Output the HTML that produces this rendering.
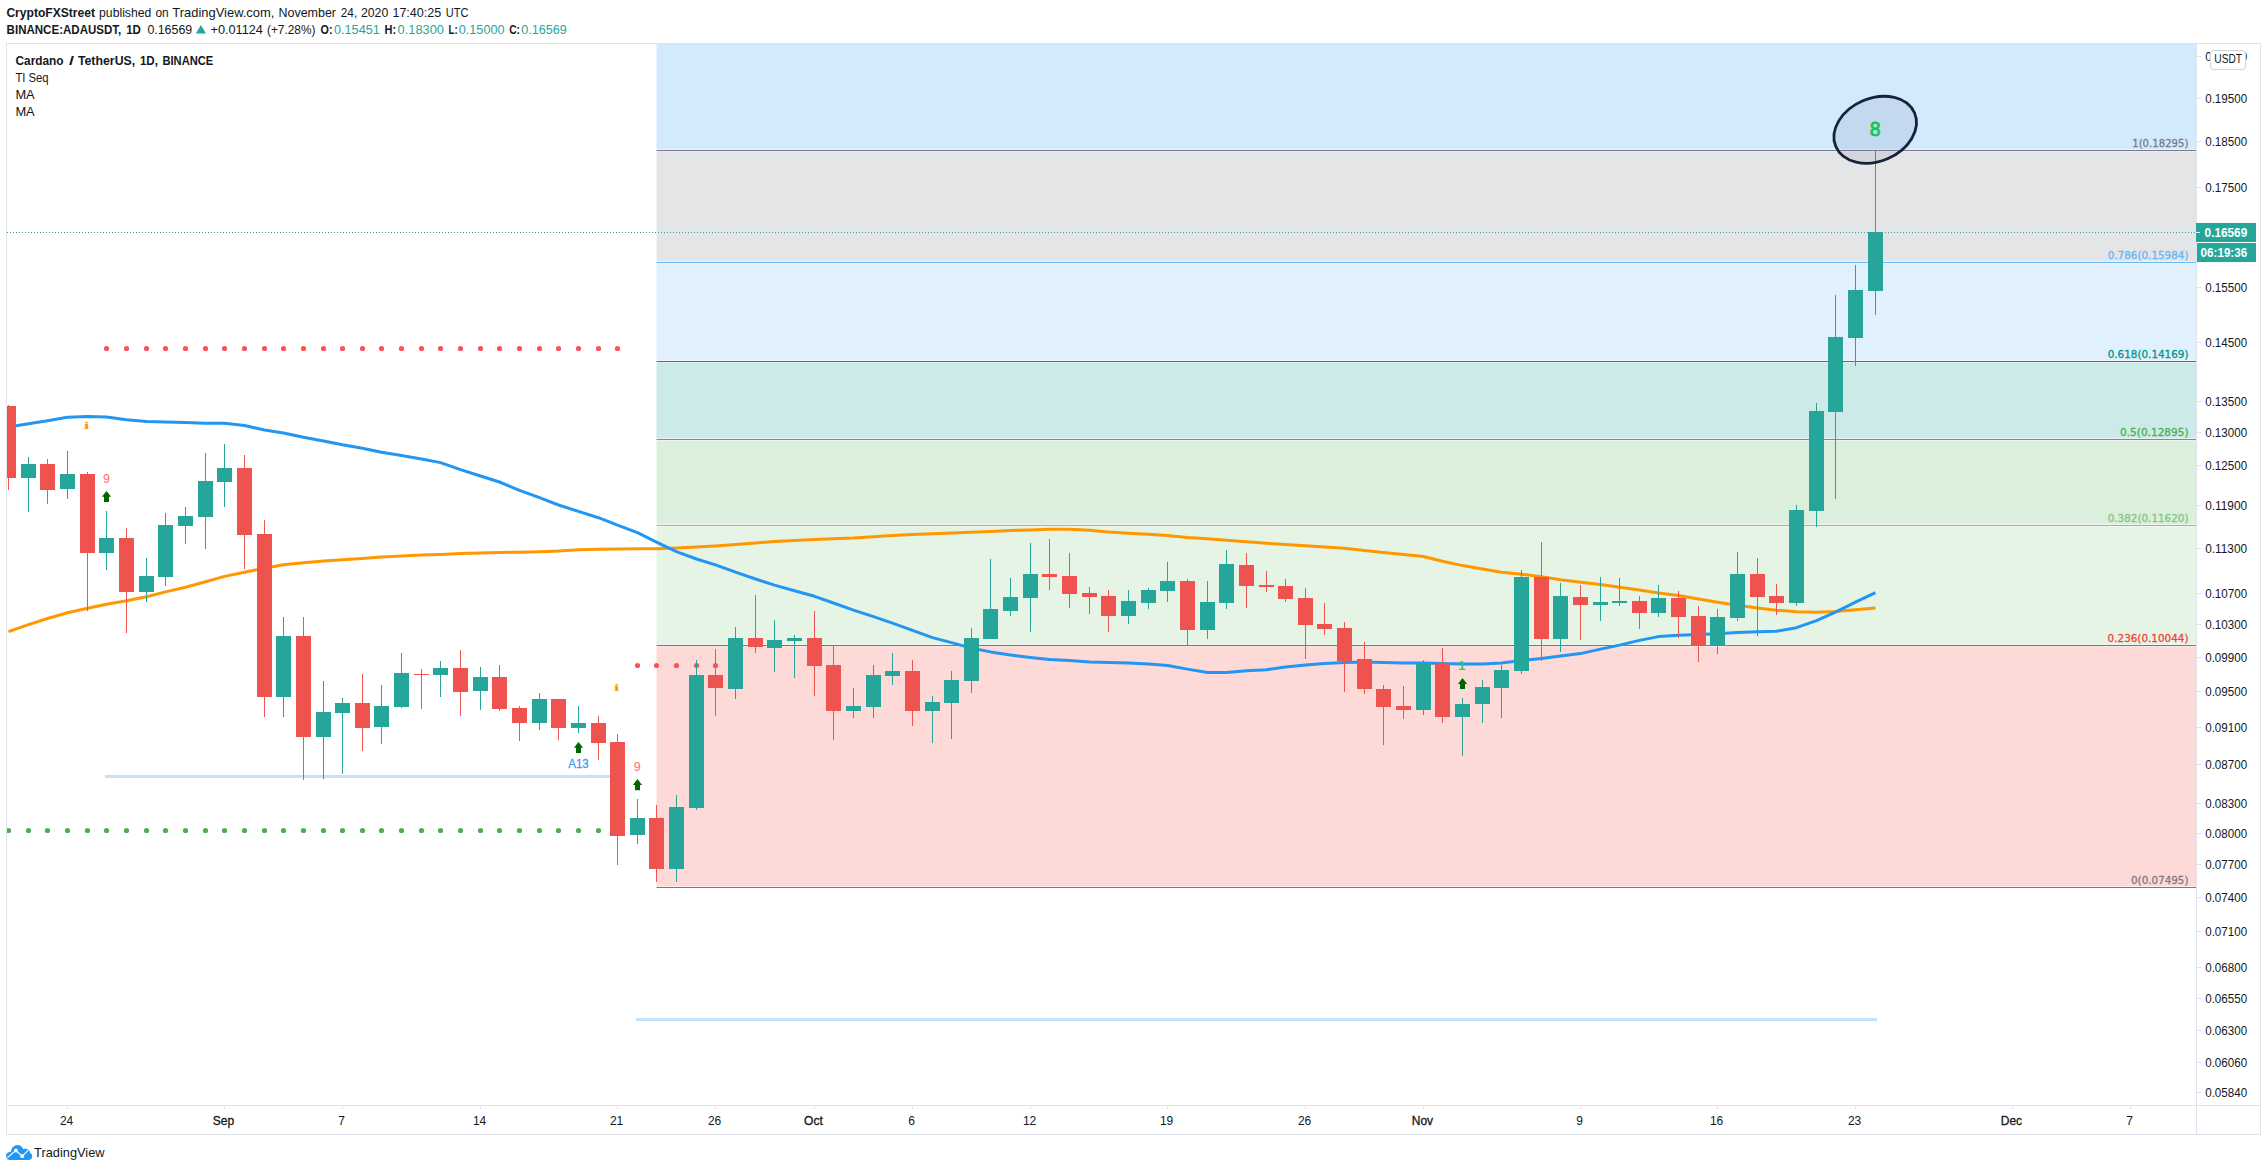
<!DOCTYPE html>
<html lang="en"><head><meta charset="utf-8"><title>ADAUSDT chart - TradingView</title>
<style>html,body{margin:0;padding:0;background:#fff;}body{width:2267px;height:1171px;overflow:hidden;}svg{display:block;}text{font-family:"Liberation Sans", sans-serif;font-size:12px;fill:#131722;}.h{font-size:12.75px;}.b{font-weight:bold;}.t{fill:#26A69A;}.fib{font-family:"DejaVu Sans", "Liberation Sans", sans-serif;font-size:11px;text-anchor:end;}.ax{font-size:12px;}.tm{font-size:12px;text-anchor:middle;}</style></head><body>
<svg width="2267" height="1171" viewBox="0 0 2267 1171">
<rect width="2267" height="1171" fill="#fff"/>
<text x="6.4" y="16.8" class="h b" textLength="88.6" lengthAdjust="spacingAndGlyphs">CryptoFXStreet</text>
<text x="99.1" y="16.8" class="h" textLength="52.2" lengthAdjust="spacingAndGlyphs">published</text>
<text x="155.5" y="16.8" class="h" textLength="13.2" lengthAdjust="spacingAndGlyphs">on</text>
<text x="172.3" y="16.8" class="h" textLength="102.1" lengthAdjust="spacingAndGlyphs">TradingView.com,</text>
<text x="278.5" y="16.8" class="h" textLength="57.5" lengthAdjust="spacingAndGlyphs">November</text>
<text x="340.7" y="16.8" class="h" textLength="16.5" lengthAdjust="spacingAndGlyphs">24,</text>
<text x="360.9" y="16.8" class="h" textLength="27.4" lengthAdjust="spacingAndGlyphs">2020</text>
<text x="392.4" y="16.8" class="h" textLength="48.9" lengthAdjust="spacingAndGlyphs">17:40:25</text>
<text x="445.7" y="16.8" class="h" textLength="22.7" lengthAdjust="spacingAndGlyphs">UTC</text>
<text x="6.6" y="33.5" class="h b" textLength="114.7" lengthAdjust="spacingAndGlyphs">BINANCE:ADAUSDT,</text>
<text x="126.2" y="33.5" class="h b" textLength="14.7" lengthAdjust="spacingAndGlyphs">1D</text>
<text x="147.4" y="33.5" class="h" textLength="44.8" lengthAdjust="spacingAndGlyphs">0.16569</text>
<path d="M195.8 33.5L200.9 24.9L206 33.5Z" fill="#26A69A"/>
<text x="210.5" y="33.5" class="h" textLength="52.4" lengthAdjust="spacingAndGlyphs">+0.01124</text>
<text x="267.0" y="33.5" class="h" textLength="48.4" lengthAdjust="spacingAndGlyphs">(+7.28%)</text>
<text x="320.6" y="33.5" class="h b" textLength="12.0" lengthAdjust="spacingAndGlyphs">O:</text>
<text x="334.0" y="33.5" class="h t" textLength="45.8" lengthAdjust="spacingAndGlyphs">0.15451</text>
<text x="384.6" y="33.5" class="h b" textLength="11.6" lengthAdjust="spacingAndGlyphs">H:</text>
<text x="397.6" y="33.5" class="h t" textLength="46.4" lengthAdjust="spacingAndGlyphs">0.18300</text>
<text x="448.6" y="33.5" class="h b" textLength="9.0" lengthAdjust="spacingAndGlyphs">L:</text>
<text x="458.8" y="33.5" class="h t" textLength="45.7" lengthAdjust="spacingAndGlyphs">0.15000</text>
<text x="509.2" y="33.5" class="h b" textLength="10.8" lengthAdjust="spacingAndGlyphs">C:</text>
<text x="521.2" y="33.5" class="h t" textLength="45.6" lengthAdjust="spacingAndGlyphs">0.16569</text>
<g>
<rect x="656.5" y="44.0" width="1539.5" height="105.5" fill="#D3EAFD"/>
<rect x="656.5" y="151.3" width="1539.5" height="110.2" fill="#E4E5E7"/>
<rect x="656.5" y="263.4" width="1539.5" height="97.1" fill="#E0F0FD"/>
<rect x="656.5" y="362.4" width="1539.5" height="76.1" fill="#CCEAE7"/>
<rect x="656.5" y="440.4" width="1539.5" height="84.1" fill="#DBEFDC"/>
<rect x="656.5" y="526.4" width="1539.5" height="118.1" fill="#E6F4E6"/>
<rect x="656.5" y="646.4" width="1539.5" height="240.1" fill="#FDD9D7"/>
<rect x="656.5" y="150" width="1539.5" height="1" fill="#787B86"/>
<rect x="656.5" y="262" width="1539.5" height="1" fill="#64B5F6"/>
<rect x="656.5" y="361" width="1539.5" height="1" fill="#009688"/>
<rect x="656.5" y="439" width="1539.5" height="1" fill="#4CAF50"/>
<rect x="656.5" y="525" width="1539.5" height="1" fill="#81C784"/>
<rect x="656.5" y="645" width="1539.5" height="1" fill="#F44336"/>
<rect x="656.5" y="887" width="1539.5" height="1" fill="#787B86"/>
</g>
<text x="2188.5" y="147.0" class="fib" textLength="56.3" lengthAdjust="spacingAndGlyphs" style="fill:#787B86;stroke:#787B86;stroke-width:0.3px">1(0.18295)</text>
<text x="2188.5" y="259.0" class="fib" textLength="80.8" lengthAdjust="spacingAndGlyphs" style="fill:#64B5F6;stroke:#64B5F6;stroke-width:0.3px">0.786(0.15984)</text>
<text x="2188.5" y="358.0" class="fib" textLength="80.8" lengthAdjust="spacingAndGlyphs" style="fill:#009688;stroke:#009688;stroke-width:0.3px">0.618(0.14169)</text>
<text x="2188.5" y="436.0" class="fib" textLength="68.4" lengthAdjust="spacingAndGlyphs" style="fill:#4CAF50;stroke:#4CAF50;stroke-width:0.3px">0.5(0.12895)</text>
<text x="2188.5" y="522.0" class="fib" textLength="80.8" lengthAdjust="spacingAndGlyphs" style="fill:#81C784;stroke:#81C784;stroke-width:0.3px">0.382(0.11620)</text>
<text x="2188.5" y="642.0" class="fib" textLength="80.9" lengthAdjust="spacingAndGlyphs" style="fill:#F44336;stroke:#F44336;stroke-width:0.3px">0.236(0.10044)</text>
<text x="2188.5" y="884.0" class="fib" textLength="57.5" lengthAdjust="spacingAndGlyphs" style="fill:#787B86;stroke:#787B86;stroke-width:0.3px">0(0.07495)</text>
<g shape-rendering="crispEdges">
<rect x="105" y="775" width="505" height="3" fill="#C4E3FB"/>
<rect x="636" y="1018" width="1241" height="3" fill="#C4E3FB"/>
</g>
<line x1="7" y1="232.5" x2="2196" y2="232.5" stroke="#26A69A" stroke-width="1" stroke-dasharray="1 2" shape-rendering="crispEdges"/>
<polyline points="8.5,631.7 28.5,624.7 47.5,618.5 67.5,612.7 87.5,608.2 106.5,604.2 126.5,600.7 146.5,596.7 165.5,591.9 185.5,587.2 205.5,581.7 224.5,576.4 244.5,572.2 264.5,568.2 283.5,564.7 303.5,562.7 323.5,560.9 342.5,559.7 362.5,558.4 381.5,557.1 401.5,556.1 421.5,555.1 440.5,554.4 460.5,553.6 480.5,552.9 499.5,552.4 519.5,552.3 539.5,551.7 558.5,551.1 578.5,549.8 598.5,549.2 617.5,549.0 637.5,548.8 656.5,548.7 676.5,547.9 696.5,547.1 715.5,546.0 735.5,544.6 755.5,543.0 774.5,541.5 794.5,540.5 814.5,539.5 833.5,538.7 853.5,538.0 873.5,536.7 892.5,535.5 912.5,534.6 932.5,533.8 951.5,533.0 971.5,532.3 990.5,531.4 1010.5,530.5 1030.5,530.0 1049.5,529.3 1069.5,529.3 1089.5,530.3 1108.5,532.0 1128.5,533.3 1148.5,534.3 1167.5,535.5 1187.5,537.5 1207.5,538.8 1226.5,540.2 1246.5,541.8 1266.5,543.3 1285.5,544.5 1305.5,545.8 1324.5,547.0 1344.5,548.3 1364.5,550.5 1383.5,552.5 1403.5,554.5 1423.5,556.5 1442.5,561.3 1462.5,565.6 1482.5,569.1 1501.5,572.3 1521.5,574.3 1541.5,576.8 1560.5,579.8 1580.5,582.3 1600.5,584.6 1619.5,587.3 1639.5,590.1 1658.5,593.1 1678.5,595.6 1698.5,599.1 1717.5,602.2 1737.5,605.2 1757.5,607.9 1776.5,610.2 1796.5,611.7 1816.5,612.2 1835.5,611.4 1855.5,609.7 1875.5,607.9" fill="none" stroke="#FF9800" stroke-width="3" stroke-linejoin="round" stroke-linecap="butt"/>
<polyline points="8.5,427.0 28.5,423.7 47.5,420.7 67.5,417.3 87.5,416.5 106.5,416.9 126.5,419.8 146.5,421.5 165.5,422.0 185.5,422.5 205.5,423.3 224.5,423.3 244.5,425.5 264.5,430.0 283.5,433.0 303.5,437.3 323.5,441.0 342.5,444.8 362.5,448.3 381.5,452.3 401.5,455.6 421.5,459.0 440.5,462.6 460.5,469.6 480.5,476.0 499.5,482.0 519.5,490.4 539.5,497.6 558.5,505.0 578.5,511.4 598.5,517.7 617.5,525.1 637.5,532.6 656.5,542.1 676.5,551.6 696.5,559.0 715.5,564.9 735.5,572.2 755.5,579.0 774.5,585.1 794.5,590.7 814.5,596.3 833.5,603.0 853.5,610.1 873.5,616.6 892.5,623.1 912.5,630.4 932.5,637.6 951.5,642.6 971.5,648.1 990.5,651.9 1010.5,655.1 1030.5,657.4 1049.5,659.4 1069.5,660.4 1089.5,661.9 1108.5,662.4 1128.5,662.9 1148.5,664.1 1167.5,665.4 1187.5,669.1 1207.5,672.4 1226.5,672.6 1246.5,670.7 1266.5,669.7 1285.5,666.9 1305.5,665.1 1324.5,663.6 1344.5,662.6 1364.5,662.1 1383.5,662.6 1403.5,663.1 1423.5,663.1 1442.5,663.4 1462.5,664.1 1482.5,663.9 1501.5,662.9 1521.5,660.6 1541.5,658.4 1560.5,656.1 1580.5,653.6 1600.5,649.1 1619.5,645.1 1639.5,640.4 1658.5,636.6 1678.5,635.3 1698.5,634.5 1717.5,633.7 1737.5,632.6 1757.5,631.8 1776.5,631.2 1796.5,627.7 1816.5,620.7 1835.5,612.2 1855.5,602.2 1875.5,592.7" fill="none" stroke="#2196F3" stroke-width="3" stroke-linejoin="round" stroke-linecap="butt"/>
<circle cx="106.5" cy="348.5" r="2.6" fill="#FF5252"/>
<circle cx="126.5" cy="348.5" r="2.6" fill="#FF5252"/>
<circle cx="146.5" cy="348.5" r="2.6" fill="#FF5252"/>
<circle cx="165.5" cy="348.5" r="2.6" fill="#FF5252"/>
<circle cx="185.5" cy="348.5" r="2.6" fill="#FF5252"/>
<circle cx="205.5" cy="348.5" r="2.6" fill="#FF5252"/>
<circle cx="224.5" cy="348.5" r="2.6" fill="#FF5252"/>
<circle cx="244.5" cy="348.5" r="2.6" fill="#FF5252"/>
<circle cx="264.5" cy="348.5" r="2.6" fill="#FF5252"/>
<circle cx="283.5" cy="348.5" r="2.6" fill="#FF5252"/>
<circle cx="303.5" cy="348.5" r="2.6" fill="#FF5252"/>
<circle cx="323.5" cy="348.5" r="2.6" fill="#FF5252"/>
<circle cx="342.5" cy="348.5" r="2.6" fill="#FF5252"/>
<circle cx="362.5" cy="348.5" r="2.6" fill="#FF5252"/>
<circle cx="381.5" cy="348.5" r="2.6" fill="#FF5252"/>
<circle cx="401.5" cy="348.5" r="2.6" fill="#FF5252"/>
<circle cx="421.5" cy="348.5" r="2.6" fill="#FF5252"/>
<circle cx="440.5" cy="348.5" r="2.6" fill="#FF5252"/>
<circle cx="460.5" cy="348.5" r="2.6" fill="#FF5252"/>
<circle cx="480.5" cy="348.5" r="2.6" fill="#FF5252"/>
<circle cx="499.5" cy="348.5" r="2.6" fill="#FF5252"/>
<circle cx="519.5" cy="348.5" r="2.6" fill="#FF5252"/>
<circle cx="539.5" cy="348.5" r="2.6" fill="#FF5252"/>
<circle cx="558.5" cy="348.5" r="2.6" fill="#FF5252"/>
<circle cx="578.5" cy="348.5" r="2.6" fill="#FF5252"/>
<circle cx="598.5" cy="348.5" r="2.6" fill="#FF5252"/>
<circle cx="617.5" cy="348.5" r="2.6" fill="#FF5252"/>
<circle cx="637.5" cy="665.5" r="2.6" fill="#FF5252"/>
<circle cx="656.5" cy="665.5" r="2.6" fill="#FF5252"/>
<circle cx="676.5" cy="665.5" r="2.6" fill="#FF5252"/>
<circle cx="696.5" cy="665.5" r="2.6" fill="#FF5252"/>
<circle cx="715.5" cy="665.5" r="2.6" fill="#FF5252"/>
<circle cx="8.5" cy="830.5" r="2.6" fill="#4CAF50"/>
<circle cx="28.5" cy="830.5" r="2.6" fill="#4CAF50"/>
<circle cx="47.5" cy="830.5" r="2.6" fill="#4CAF50"/>
<circle cx="67.5" cy="830.5" r="2.6" fill="#4CAF50"/>
<circle cx="87.5" cy="830.5" r="2.6" fill="#4CAF50"/>
<circle cx="106.5" cy="830.5" r="2.6" fill="#4CAF50"/>
<circle cx="126.5" cy="830.5" r="2.6" fill="#4CAF50"/>
<circle cx="146.5" cy="830.5" r="2.6" fill="#4CAF50"/>
<circle cx="165.5" cy="830.5" r="2.6" fill="#4CAF50"/>
<circle cx="185.5" cy="830.5" r="2.6" fill="#4CAF50"/>
<circle cx="205.5" cy="830.5" r="2.6" fill="#4CAF50"/>
<circle cx="224.5" cy="830.5" r="2.6" fill="#4CAF50"/>
<circle cx="244.5" cy="830.5" r="2.6" fill="#4CAF50"/>
<circle cx="264.5" cy="830.5" r="2.6" fill="#4CAF50"/>
<circle cx="283.5" cy="830.5" r="2.6" fill="#4CAF50"/>
<circle cx="303.5" cy="830.5" r="2.6" fill="#4CAF50"/>
<circle cx="323.5" cy="830.5" r="2.6" fill="#4CAF50"/>
<circle cx="342.5" cy="830.5" r="2.6" fill="#4CAF50"/>
<circle cx="362.5" cy="830.5" r="2.6" fill="#4CAF50"/>
<circle cx="381.5" cy="830.5" r="2.6" fill="#4CAF50"/>
<circle cx="401.5" cy="830.5" r="2.6" fill="#4CAF50"/>
<circle cx="421.5" cy="830.5" r="2.6" fill="#4CAF50"/>
<circle cx="440.5" cy="830.5" r="2.6" fill="#4CAF50"/>
<circle cx="460.5" cy="830.5" r="2.6" fill="#4CAF50"/>
<circle cx="480.5" cy="830.5" r="2.6" fill="#4CAF50"/>
<circle cx="499.5" cy="830.5" r="2.6" fill="#4CAF50"/>
<circle cx="519.5" cy="830.5" r="2.6" fill="#4CAF50"/>
<circle cx="539.5" cy="830.5" r="2.6" fill="#4CAF50"/>
<circle cx="558.5" cy="830.5" r="2.6" fill="#4CAF50"/>
<circle cx="578.5" cy="830.5" r="2.6" fill="#4CAF50"/>
<circle cx="598.5" cy="830.5" r="2.6" fill="#4CAF50"/>
<g shape-rendering="crispEdges">
<rect x="8" y="405" width="1" height="85" fill="#EF5350"/>
<rect x="7" y="406" width="9" height="72" fill="#EF5350"/>
<rect x="28" y="457" width="1" height="55" fill="#26A69A"/>
<rect x="21" y="464" width="15" height="14" fill="#26A69A"/>
<rect x="47" y="459" width="1" height="45" fill="#EF5350"/>
<rect x="40" y="464" width="15" height="26" fill="#EF5350"/>
<rect x="67" y="451" width="1" height="48" fill="#26A69A"/>
<rect x="60" y="474" width="15" height="15" fill="#26A69A"/>
<rect x="87" y="472" width="1" height="139" fill="#EF5350"/>
<rect x="80" y="474" width="15" height="79" fill="#EF5350"/>
<rect x="106" y="511" width="1" height="59" fill="#26A69A"/>
<rect x="99" y="538" width="15" height="15" fill="#26A69A"/>
<rect x="126" y="528" width="1" height="105" fill="#EF5350"/>
<rect x="119" y="538" width="15" height="54" fill="#EF5350"/>
<rect x="146" y="558" width="1" height="44" fill="#26A69A"/>
<rect x="139" y="576" width="15" height="16" fill="#26A69A"/>
<rect x="165" y="513" width="1" height="73" fill="#26A69A"/>
<rect x="158" y="525" width="15" height="52" fill="#26A69A"/>
<rect x="185" y="507" width="1" height="37" fill="#26A69A"/>
<rect x="178" y="516" width="15" height="10" fill="#26A69A"/>
<rect x="205" y="453" width="1" height="96" fill="#26A69A"/>
<rect x="198" y="481" width="15" height="36" fill="#26A69A"/>
<rect x="224" y="444" width="1" height="63" fill="#26A69A"/>
<rect x="217" y="468" width="15" height="14" fill="#26A69A"/>
<rect x="244" y="455" width="1" height="114" fill="#EF5350"/>
<rect x="237" y="468" width="15" height="67" fill="#EF5350"/>
<rect x="264" y="520" width="1" height="197" fill="#EF5350"/>
<rect x="257" y="534" width="15" height="163" fill="#EF5350"/>
<rect x="283" y="617" width="1" height="100" fill="#26A69A"/>
<rect x="276" y="636" width="15" height="61" fill="#26A69A"/>
<rect x="303" y="617" width="1" height="163" fill="#EF5350"/>
<rect x="296" y="636" width="15" height="101" fill="#EF5350"/>
<rect x="323" y="681" width="1" height="98" fill="#26A69A"/>
<rect x="316" y="712" width="15" height="25" fill="#26A69A"/>
<rect x="342" y="698" width="1" height="76" fill="#26A69A"/>
<rect x="335" y="703" width="15" height="10" fill="#26A69A"/>
<rect x="362" y="674" width="1" height="77" fill="#EF5350"/>
<rect x="355" y="703" width="15" height="25" fill="#EF5350"/>
<rect x="381" y="685" width="1" height="59" fill="#26A69A"/>
<rect x="374" y="706" width="15" height="21" fill="#26A69A"/>
<rect x="401" y="653" width="1" height="55" fill="#26A69A"/>
<rect x="394" y="673" width="15" height="34" fill="#26A69A"/>
<rect x="421" y="669" width="1" height="40" fill="#EF5350"/>
<rect x="414" y="674" width="15" height="1" fill="#EF5350"/>
<rect x="440" y="661" width="1" height="36" fill="#26A69A"/>
<rect x="433" y="668" width="15" height="7" fill="#26A69A"/>
<rect x="460" y="650" width="1" height="66" fill="#EF5350"/>
<rect x="453" y="668" width="15" height="24" fill="#EF5350"/>
<rect x="480" y="667" width="1" height="43" fill="#26A69A"/>
<rect x="473" y="677" width="15" height="14" fill="#26A69A"/>
<rect x="499" y="665" width="1" height="46" fill="#EF5350"/>
<rect x="492" y="677" width="15" height="32" fill="#EF5350"/>
<rect x="519" y="706" width="1" height="35" fill="#EF5350"/>
<rect x="512" y="708" width="15" height="15" fill="#EF5350"/>
<rect x="539" y="693" width="1" height="37" fill="#26A69A"/>
<rect x="532" y="699" width="15" height="24" fill="#26A69A"/>
<rect x="558" y="699" width="1" height="41" fill="#EF5350"/>
<rect x="551" y="699" width="15" height="29" fill="#EF5350"/>
<rect x="578" y="706" width="1" height="27" fill="#26A69A"/>
<rect x="571" y="723" width="15" height="5" fill="#26A69A"/>
<rect x="598" y="716" width="1" height="44" fill="#EF5350"/>
<rect x="591" y="723" width="15" height="20" fill="#EF5350"/>
<rect x="617" y="734" width="1" height="131" fill="#EF5350"/>
<rect x="610" y="742" width="15" height="94" fill="#EF5350"/>
<rect x="637" y="799" width="1" height="45" fill="#26A69A"/>
<rect x="630" y="818" width="15" height="17" fill="#26A69A"/>
<rect x="656" y="805" width="1" height="77" fill="#EF5350"/>
<rect x="649" y="818" width="15" height="51" fill="#EF5350"/>
<rect x="676" y="795" width="1" height="87" fill="#26A69A"/>
<rect x="669" y="807" width="15" height="62" fill="#26A69A"/>
<rect x="696" y="660" width="1" height="150" fill="#26A69A"/>
<rect x="689" y="675" width="15" height="133" fill="#26A69A"/>
<rect x="715" y="649" width="1" height="67" fill="#EF5350"/>
<rect x="708" y="675" width="15" height="13" fill="#EF5350"/>
<rect x="735" y="627" width="1" height="72" fill="#26A69A"/>
<rect x="728" y="638" width="15" height="51" fill="#26A69A"/>
<rect x="755" y="595" width="1" height="58" fill="#EF5350"/>
<rect x="748" y="638" width="15" height="9" fill="#EF5350"/>
<rect x="774" y="620" width="1" height="52" fill="#26A69A"/>
<rect x="767" y="640" width="15" height="8" fill="#26A69A"/>
<rect x="794" y="635" width="1" height="43" fill="#26A69A"/>
<rect x="787" y="638" width="15" height="3" fill="#26A69A"/>
<rect x="814" y="611" width="1" height="85" fill="#EF5350"/>
<rect x="807" y="638" width="15" height="28" fill="#EF5350"/>
<rect x="833" y="646" width="1" height="94" fill="#EF5350"/>
<rect x="826" y="665" width="15" height="46" fill="#EF5350"/>
<rect x="853" y="688" width="1" height="30" fill="#26A69A"/>
<rect x="846" y="706" width="15" height="5" fill="#26A69A"/>
<rect x="873" y="665" width="1" height="53" fill="#26A69A"/>
<rect x="866" y="675" width="15" height="32" fill="#26A69A"/>
<rect x="892" y="653" width="1" height="32" fill="#26A69A"/>
<rect x="885" y="671" width="15" height="5" fill="#26A69A"/>
<rect x="912" y="660" width="1" height="66" fill="#EF5350"/>
<rect x="905" y="671" width="15" height="40" fill="#EF5350"/>
<rect x="932" y="696" width="1" height="47" fill="#26A69A"/>
<rect x="925" y="702" width="15" height="9" fill="#26A69A"/>
<rect x="951" y="671" width="1" height="68" fill="#26A69A"/>
<rect x="944" y="680" width="15" height="23" fill="#26A69A"/>
<rect x="971" y="628" width="1" height="65" fill="#26A69A"/>
<rect x="964" y="638" width="15" height="43" fill="#26A69A"/>
<rect x="990" y="559" width="1" height="80" fill="#26A69A"/>
<rect x="983" y="609" width="15" height="30" fill="#26A69A"/>
<rect x="1010" y="578" width="1" height="38" fill="#26A69A"/>
<rect x="1003" y="597" width="15" height="14" fill="#26A69A"/>
<rect x="1030" y="543" width="1" height="89" fill="#26A69A"/>
<rect x="1023" y="574" width="15" height="24" fill="#26A69A"/>
<rect x="1049" y="539" width="1" height="51" fill="#EF5350"/>
<rect x="1042" y="574" width="15" height="3" fill="#EF5350"/>
<rect x="1069" y="553" width="1" height="55" fill="#EF5350"/>
<rect x="1062" y="576" width="15" height="18" fill="#EF5350"/>
<rect x="1089" y="587" width="1" height="27" fill="#EF5350"/>
<rect x="1082" y="593" width="15" height="4" fill="#EF5350"/>
<rect x="1108" y="590" width="1" height="42" fill="#EF5350"/>
<rect x="1101" y="596" width="15" height="20" fill="#EF5350"/>
<rect x="1128" y="590" width="1" height="34" fill="#26A69A"/>
<rect x="1121" y="601" width="15" height="15" fill="#26A69A"/>
<rect x="1148" y="588" width="1" height="21" fill="#26A69A"/>
<rect x="1141" y="590" width="15" height="13" fill="#26A69A"/>
<rect x="1167" y="562" width="1" height="40" fill="#26A69A"/>
<rect x="1160" y="581" width="15" height="10" fill="#26A69A"/>
<rect x="1187" y="579" width="1" height="66" fill="#EF5350"/>
<rect x="1180" y="581" width="15" height="49" fill="#EF5350"/>
<rect x="1207" y="581" width="1" height="58" fill="#26A69A"/>
<rect x="1200" y="602" width="15" height="28" fill="#26A69A"/>
<rect x="1226" y="550" width="1" height="59" fill="#26A69A"/>
<rect x="1219" y="564" width="15" height="39" fill="#26A69A"/>
<rect x="1246" y="553" width="1" height="55" fill="#EF5350"/>
<rect x="1239" y="565" width="15" height="21" fill="#EF5350"/>
<rect x="1266" y="571" width="1" height="21" fill="#EF5350"/>
<rect x="1259" y="585" width="15" height="2" fill="#EF5350"/>
<rect x="1285" y="579" width="1" height="23" fill="#EF5350"/>
<rect x="1278" y="586" width="15" height="13" fill="#EF5350"/>
<rect x="1305" y="588" width="1" height="71" fill="#EF5350"/>
<rect x="1298" y="598" width="15" height="27" fill="#EF5350"/>
<rect x="1324" y="603" width="1" height="32" fill="#EF5350"/>
<rect x="1317" y="624" width="15" height="5" fill="#EF5350"/>
<rect x="1344" y="622" width="1" height="70" fill="#EF5350"/>
<rect x="1337" y="628" width="15" height="33" fill="#EF5350"/>
<rect x="1364" y="642" width="1" height="52" fill="#EF5350"/>
<rect x="1357" y="659" width="15" height="30" fill="#EF5350"/>
<rect x="1383" y="685" width="1" height="60" fill="#EF5350"/>
<rect x="1376" y="689" width="15" height="18" fill="#EF5350"/>
<rect x="1403" y="686" width="1" height="33" fill="#EF5350"/>
<rect x="1396" y="706" width="15" height="4" fill="#EF5350"/>
<rect x="1423" y="660" width="1" height="55" fill="#26A69A"/>
<rect x="1416" y="663" width="15" height="47" fill="#26A69A"/>
<rect x="1442" y="648" width="1" height="75" fill="#EF5350"/>
<rect x="1435" y="663" width="15" height="54" fill="#EF5350"/>
<rect x="1462" y="698" width="1" height="58" fill="#26A69A"/>
<rect x="1455" y="704" width="15" height="13" fill="#26A69A"/>
<rect x="1482" y="680" width="1" height="43" fill="#26A69A"/>
<rect x="1475" y="687" width="15" height="17" fill="#26A69A"/>
<rect x="1501" y="665" width="1" height="53" fill="#26A69A"/>
<rect x="1494" y="670" width="15" height="18" fill="#26A69A"/>
<rect x="1521" y="570" width="1" height="104" fill="#26A69A"/>
<rect x="1514" y="577" width="15" height="94" fill="#26A69A"/>
<rect x="1541" y="542" width="1" height="119" fill="#EF5350"/>
<rect x="1534" y="577" width="15" height="62" fill="#EF5350"/>
<rect x="1560" y="583" width="1" height="69" fill="#26A69A"/>
<rect x="1553" y="596" width="15" height="43" fill="#26A69A"/>
<rect x="1580" y="585" width="1" height="55" fill="#EF5350"/>
<rect x="1573" y="597" width="15" height="8" fill="#EF5350"/>
<rect x="1600" y="577" width="1" height="44" fill="#26A69A"/>
<rect x="1593" y="602" width="15" height="3" fill="#26A69A"/>
<rect x="1619" y="578" width="1" height="28" fill="#26A69A"/>
<rect x="1612" y="601" width="15" height="2" fill="#26A69A"/>
<rect x="1639" y="596" width="1" height="33" fill="#EF5350"/>
<rect x="1632" y="601" width="15" height="12" fill="#EF5350"/>
<rect x="1658" y="585" width="1" height="32" fill="#26A69A"/>
<rect x="1651" y="598" width="15" height="15" fill="#26A69A"/>
<rect x="1678" y="591" width="1" height="47" fill="#EF5350"/>
<rect x="1671" y="598" width="15" height="19" fill="#EF5350"/>
<rect x="1698" y="606" width="1" height="56" fill="#EF5350"/>
<rect x="1691" y="616" width="15" height="30" fill="#EF5350"/>
<rect x="1717" y="609" width="1" height="45" fill="#26A69A"/>
<rect x="1710" y="617" width="15" height="29" fill="#26A69A"/>
<rect x="1737" y="552" width="1" height="69" fill="#26A69A"/>
<rect x="1730" y="574" width="15" height="44" fill="#26A69A"/>
<rect x="1757" y="558" width="1" height="78" fill="#EF5350"/>
<rect x="1750" y="574" width="15" height="23" fill="#EF5350"/>
<rect x="1776" y="584" width="1" height="31" fill="#EF5350"/>
<rect x="1769" y="596" width="15" height="7" fill="#EF5350"/>
<rect x="1796" y="505" width="1" height="101" fill="#26A69A"/>
<rect x="1789" y="510" width="15" height="93" fill="#26A69A"/>
<rect x="1816" y="403" width="1" height="124" fill="#26A69A"/>
<rect x="1809" y="411" width="15" height="100" fill="#26A69A"/>
<rect x="1835" y="295" width="1" height="204" fill="#26A69A"/>
<rect x="1828" y="337" width="15" height="75" fill="#26A69A"/>
<rect x="1855" y="265" width="1" height="101" fill="#26A69A"/>
<rect x="1848" y="290" width="15" height="48" fill="#26A69A"/>
<rect x="1875" y="150" width="1" height="165" fill="#26A69A"/>
<rect x="1868" y="232" width="15" height="59" fill="#26A69A"/>
</g>
<text x="106.5" y="483.1" style="fill:#FF5252;font-size:12.5px;text-anchor:middle" opacity="0.85">9</text>
<path d="M106.5 490.9l4.6 5.9h-2.1v5.2h-5v-5.2h-2.1z" fill="#006400"/>
<path d="M578.5 741.9l4.6 5.9h-2.1v5.2h-5v-5.2h-2.1z" fill="#006400"/>
<text x="578.5" y="767.9" textLength="20.4" lengthAdjust="spacingAndGlyphs" style="fill:#2196F3;font-size:12px;text-anchor:middle;stroke:#2196F3;stroke-width:0.3px" opacity="0.9">A13</text>
<text x="637.2" y="771.0" style="fill:#FF5252;font-size:12.5px;text-anchor:middle" opacity="0.85">9</text>
<path d="M637.5 779.1l4.6 5.9h-2.1v5.2h-5v-5.2h-2.1z" fill="#006400"/>
<text x="1461.8" y="669.9" class="b" style="fill:#25CC63;font-size:12.5px;text-anchor:middle">1</text>
<path d="M1462.5 678.0l4.6 5.9h-2.1v5.2h-5v-5.2h-2.1z" fill="#006400"/>
<text transform="translate(86.6 428.9) scale(1.7 1)" class="b" style="fill:#FF9800;font-family:'Liberation Serif', serif;font-size:11.2px;text-anchor:middle">i</text>
<text transform="translate(616.6 690.6) scale(1.7 1)" class="b" style="fill:#FF9800;font-family:'Liberation Serif', serif;font-size:11.2px;text-anchor:middle">i</text>
<ellipse cx="1875.2" cy="129.8" rx="42.8" ry="31.5" transform="rotate(-23 1875.2 129.8)" fill="rgba(40,60,110,0.09)" stroke="#15233A" stroke-width="2.8"/>
<text x="1875.0" y="136.0" style="fill:#0ACB55;font-size:19.3px;text-anchor:middle;stroke:#0ACB55;stroke-width:0.9px">8</text>
<text x="15.5" y="64.5" class="h b" textLength="48.1" lengthAdjust="spacingAndGlyphs">Cardano</text>
<text x="69.0" y="64.5" class="h b" textLength="5.0" lengthAdjust="spacingAndGlyphs">/</text>
<text x="77.9" y="64.5" class="h b" textLength="57.3" lengthAdjust="spacingAndGlyphs">TetherUS,</text>
<text x="139.9" y="64.5" class="h b" textLength="18.0" lengthAdjust="spacingAndGlyphs">1D,</text>
<text x="162.4" y="64.5" class="h b" textLength="50.9" lengthAdjust="spacingAndGlyphs">BINANCE</text>
<text x="15.4" y="81.6" class="h" textLength="33.2" lengthAdjust="spacingAndGlyphs">TI Seq</text>
<text x="15.4" y="98.9" class="h" textLength="19.3" lengthAdjust="spacingAndGlyphs">MA</text>
<text x="15.4" y="115.7" class="h" textLength="19.3" lengthAdjust="spacingAndGlyphs">MA</text>
<g shape-rendering="crispEdges" fill="#E0E3EB">
<rect x="6" y="43" width="2255" height="1"/>
<rect x="6" y="1134" width="2255" height="1"/>
<rect x="6" y="43" width="1" height="1092"/>
<rect x="2260" y="43" width="1" height="1092"/>
<rect x="2196" y="44" width="1" height="1090"/>
<rect x="7" y="1105" width="2253" height="1"/>
<rect x="2197" y="56" width="4" height="1"/>
<rect x="2197" y="98" width="4" height="1"/>
<rect x="2197" y="141" width="4" height="1"/>
<rect x="2197" y="187" width="4" height="1"/>
<rect x="2197" y="287" width="4" height="1"/>
<rect x="2197" y="342" width="4" height="1"/>
<rect x="2197" y="401" width="4" height="1"/>
<rect x="2197" y="432" width="4" height="1"/>
<rect x="2197" y="465" width="4" height="1"/>
<rect x="2197" y="505" width="4" height="1"/>
<rect x="2197" y="548" width="4" height="1"/>
<rect x="2197" y="593" width="4" height="1"/>
<rect x="2197" y="624" width="4" height="1"/>
<rect x="2197" y="657" width="4" height="1"/>
<rect x="2197" y="691" width="4" height="1"/>
<rect x="2197" y="727" width="4" height="1"/>
<rect x="2197" y="764" width="4" height="1"/>
<rect x="2197" y="803" width="4" height="1"/>
<rect x="2197" y="833" width="4" height="1"/>
<rect x="2197" y="864" width="4" height="1"/>
<rect x="2197" y="897" width="4" height="1"/>
<rect x="2197" y="931" width="4" height="1"/>
<rect x="2197" y="967" width="4" height="1"/>
<rect x="2197" y="998" width="4" height="1"/>
<rect x="2197" y="1030" width="4" height="1"/>
<rect x="2197" y="1062" width="4" height="1"/>
<rect x="2197" y="1092" width="4" height="1"/>
<rect x="67" y="1106" width="1" height="3"/>
<rect x="224" y="1106" width="1" height="3"/>
<rect x="342" y="1106" width="1" height="3"/>
<rect x="480" y="1106" width="1" height="3"/>
<rect x="617" y="1106" width="1" height="3"/>
<rect x="715" y="1106" width="1" height="3"/>
<rect x="814" y="1106" width="1" height="3"/>
<rect x="912" y="1106" width="1" height="3"/>
<rect x="1030" y="1106" width="1" height="3"/>
<rect x="1167" y="1106" width="1" height="3"/>
<rect x="1305" y="1106" width="1" height="3"/>
<rect x="1423" y="1106" width="1" height="3"/>
<rect x="1580" y="1106" width="1" height="3"/>
<rect x="1717" y="1106" width="1" height="3"/>
<rect x="1855" y="1106" width="1" height="3"/>
<rect x="2012" y="1106" width="1" height="3"/>
<rect x="2130" y="1106" width="1" height="3"/>
</g>
<text x="2205.2" y="60.8" class="ax" textLength="41.9" lengthAdjust="spacingAndGlyphs">0.20500</text>
<text x="2205.2" y="102.8" class="ax" textLength="41.9" lengthAdjust="spacingAndGlyphs">0.19500</text>
<text x="2205.2" y="145.8" class="ax" textLength="41.9" lengthAdjust="spacingAndGlyphs">0.18500</text>
<text x="2205.2" y="191.8" class="ax" textLength="41.9" lengthAdjust="spacingAndGlyphs">0.17500</text>
<text x="2205.2" y="291.8" class="ax" textLength="41.9" lengthAdjust="spacingAndGlyphs">0.15500</text>
<text x="2205.2" y="346.8" class="ax" textLength="41.9" lengthAdjust="spacingAndGlyphs">0.14500</text>
<text x="2205.2" y="405.8" class="ax" textLength="41.9" lengthAdjust="spacingAndGlyphs">0.13500</text>
<text x="2205.2" y="436.8" class="ax" textLength="41.9" lengthAdjust="spacingAndGlyphs">0.13000</text>
<text x="2205.2" y="469.8" class="ax" textLength="41.9" lengthAdjust="spacingAndGlyphs">0.12500</text>
<text x="2205.2" y="509.8" class="ax" textLength="41.9" lengthAdjust="spacingAndGlyphs">0.11900</text>
<text x="2205.2" y="552.8" class="ax" textLength="41.9" lengthAdjust="spacingAndGlyphs">0.11300</text>
<text x="2205.2" y="597.8" class="ax" textLength="41.9" lengthAdjust="spacingAndGlyphs">0.10700</text>
<text x="2205.2" y="628.8" class="ax" textLength="41.9" lengthAdjust="spacingAndGlyphs">0.10300</text>
<text x="2205.2" y="661.8" class="ax" textLength="41.9" lengthAdjust="spacingAndGlyphs">0.09900</text>
<text x="2205.2" y="695.8" class="ax" textLength="41.9" lengthAdjust="spacingAndGlyphs">0.09500</text>
<text x="2205.2" y="731.8" class="ax" textLength="41.9" lengthAdjust="spacingAndGlyphs">0.09100</text>
<text x="2205.2" y="768.8" class="ax" textLength="41.9" lengthAdjust="spacingAndGlyphs">0.08700</text>
<text x="2205.2" y="807.8" class="ax" textLength="41.9" lengthAdjust="spacingAndGlyphs">0.08300</text>
<text x="2205.2" y="837.8" class="ax" textLength="41.9" lengthAdjust="spacingAndGlyphs">0.08000</text>
<text x="2205.2" y="868.8" class="ax" textLength="41.9" lengthAdjust="spacingAndGlyphs">0.07700</text>
<text x="2205.2" y="901.8" class="ax" textLength="41.9" lengthAdjust="spacingAndGlyphs">0.07400</text>
<text x="2205.2" y="935.8" class="ax" textLength="41.9" lengthAdjust="spacingAndGlyphs">0.07100</text>
<text x="2205.2" y="971.8" class="ax" textLength="41.9" lengthAdjust="spacingAndGlyphs">0.06800</text>
<text x="2205.2" y="1002.8" class="ax" textLength="41.9" lengthAdjust="spacingAndGlyphs">0.06550</text>
<text x="2205.2" y="1034.8" class="ax" textLength="41.9" lengthAdjust="spacingAndGlyphs">0.06300</text>
<text x="2205.2" y="1066.8" class="ax" textLength="41.9" lengthAdjust="spacingAndGlyphs">0.06060</text>
<text x="2205.2" y="1096.8" class="ax" textLength="41.9" lengthAdjust="spacingAndGlyphs">0.05840</text>
<text x="66.6" y="1125.0" class="tm">24</text>
<text x="223.4" y="1125.0" class="tm" style="stroke:#131722;stroke-width:0.3px">Sep</text>
<text x="341.6" y="1125.0" class="tm">7</text>
<text x="479.6" y="1125.0" class="tm">14</text>
<text x="616.6" y="1125.0" class="tm">21</text>
<text x="714.6" y="1125.0" class="tm">26</text>
<text x="813.4" y="1125.0" class="tm" style="stroke:#131722;stroke-width:0.3px">Oct</text>
<text x="911.6" y="1125.0" class="tm">6</text>
<text x="1029.6" y="1125.0" class="tm">12</text>
<text x="1166.6" y="1125.0" class="tm">19</text>
<text x="1304.6" y="1125.0" class="tm">26</text>
<text x="1422.4" y="1125.0" class="tm" style="stroke:#131722;stroke-width:0.3px">Nov</text>
<text x="1579.6" y="1125.0" class="tm">9</text>
<text x="1716.6" y="1125.0" class="tm">16</text>
<text x="1854.6" y="1125.0" class="tm">23</text>
<text x="2011.4" y="1125.0" class="tm" style="stroke:#131722;stroke-width:0.3px">Dec</text>
<text x="2129.6" y="1125.0" class="tm">7</text>
<rect x="2210.5" y="50.5" width="35" height="19" rx="3.5" fill="#fff" stroke="#D1D4DC" stroke-width="1"/>
<text x="2214.3" y="62.9" class="ax" textLength="27.7" lengthAdjust="spacingAndGlyphs" style="font-size:12.6px">USDT</text>
<g shape-rendering="crispEdges">
<rect x="2196" y="223" width="60" height="19" fill="#26A69A"/>
<rect x="2197" y="243" width="59" height="19" fill="#26A69A"/>
<rect x="2196" y="232" width="4" height="1" fill="#fff"/>
</g>
<text x="2204.6" y="237.1" class="ax b" textLength="42.6" lengthAdjust="spacingAndGlyphs" style="fill:#fff">0.16569</text>
<text x="2200.6" y="257.0" class="ax b" textLength="46.6" lengthAdjust="spacingAndGlyphs" style="fill:#fff">06:19:36</text>
<g transform="translate(6 1145)">
<path d="M4.2 15.1C1.9 15.1 0 13.3 0 11C0 8.9 1.5 7.2 3.5 6.9C3.7 6.9 4.3 6.8 4.9 6.9C5.3 3 8.1 0 11.4 0C14.2 0 16.3 1.6 17.2 4.2C17.9 3.9 18.6 3.8 19.4 3.8C22 3.8 24 5.6 24.3 8C25.5 8.6 26.2 9.9 26.2 11.3C26.2 13.4 24.5 15.1 22.4 15.1Z" fill="#2196F3"/>
<path d="M1.3 12.6L9.8 5.6L16.2 11.3L22.3 5.2" fill="none" stroke="#fff" stroke-width="1.15"/>
<circle cx="9.9" cy="5.5" r="1.9" fill="#fff"/><circle cx="16.2" cy="11.2" r="1.9" fill="#fff"/>
</g>
<text x="34.1" y="1156.7" class="h" textLength="70.5" lengthAdjust="spacingAndGlyphs">TradingView</text>
</svg></body></html>
